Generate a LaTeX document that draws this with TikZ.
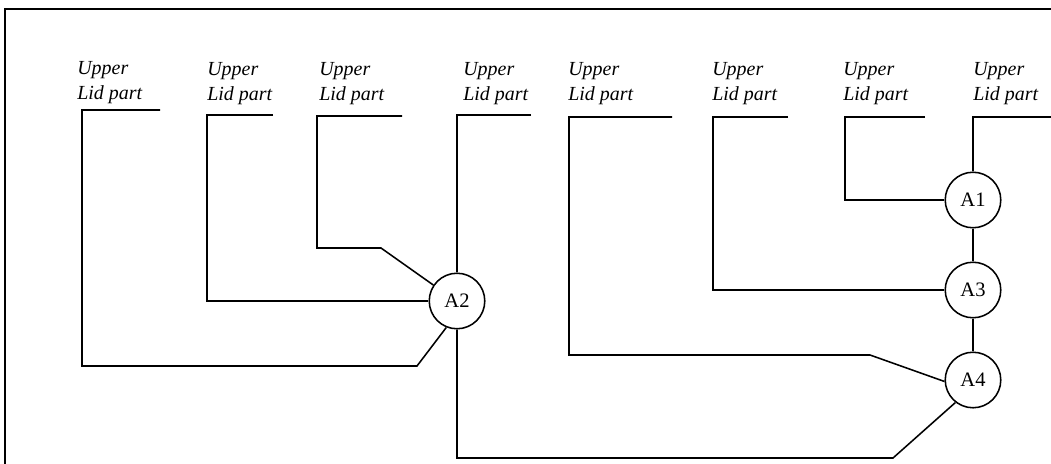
\documentclass[tikz,border=0pt]{standalone}
\usepackage{fontspec}
\setmainfont{Liberation Serif}
\usetikzlibrary{positioning,calc}
\tikzset{
  part/.style={font=\fontsize{14.2}{17.9}\selectfont\itshape,align=left,
               inner sep=0pt,anchor=base west},
  asm/.style={circle,draw=black,line width=1.1pt,minimum size=39.5pt,
              inner sep=0pt,font=\fontsize{14.6}{17}\selectfont},
  wire/.style={line width=1.1pt,black},
  frame/.style={line width=1.6pt,black},
}

\begin{document}
\begin{tikzpicture}[x=0.025cm,y=-0.025cm]
  \useasboundingbox (0,0) rectangle (1051,464);
  \draw[frame] (5,464) -- (5,9) -- (1051,9);

  % part labels (base = last line)
  \node[part] (p1) at (77,100)  {Upper\\Lid part};
  \node[part] (p2) at (207,101) {Upper\\Lid part};
  \node[part] (p3) at (319,101) {Upper\\Lid part};
  \node[part] (p4) at (463,101) {Upper\\Lid part};
  \node[part] (p5) at (568,101) {Upper\\Lid part};
  \node[part] (p6) at (712,101) {Upper\\Lid part};
  \node[part] (p7) at (843,101) {Upper\\Lid part};
  \node[part] (p8) at (973,101) {Upper\\Lid part};

  % assembly steps
  \node[asm] (A2) at (457,301) {A2};
  \node[asm] (A1) at (973,200) {A1};
  \node[asm] (A3) at (973,290) {A3};
  \node[asm] (A4) at (973,380) {A4};

  % bracket corners and ends
  \coordinate (c1) at (82,110);  \coordinate (e1) at (160,110);
  \coordinate (c2) at (207,115); \coordinate (e2) at (273,115);
  \coordinate (c3) at (317,116); \coordinate (e3) at (402,116);
  \coordinate (c4) at (457,115); \coordinate (e4) at (531,115);
  \coordinate (c5) at (569,117); \coordinate (e5) at (672,117);
  \coordinate (c6) at (713,117); \coordinate (e6) at (788,117);
  \coordinate (c7) at (845,117); \coordinate (e7) at (925,117);
  \coordinate (c8) at (973,117); \coordinate (e8) at (1051,117);
  \coordinate (k1) at (417,366);
  \coordinate (k3) at (381,248);
  \coordinate (k5) at (870,355);
  \coordinate (k0) at (893,458);

  \draw[wire] (e1) -- (c1) |- (k1) -- (A2.248);
  \draw[wire] (e2) -- (c2) |- (A2.west);
  \draw[wire] (e3) -- (c3) |- (k3) -- (A2.146);
  \draw[wire] (e4) -- (c4) -- (A2.north);
  \draw[wire] (A2.south) |- (k0) -- (A4.232);
  \draw[wire] (e5) -- (c5) |- (k5) -- (A4.183);
  \draw[wire] (e6) -- (c6) |- (A3.west);
  \draw[wire] (e7) -- (c7) |- (A1.west);
  \draw[wire] (e8) -- (c8) -- (A1.north);
  \draw[wire] (A1) -- (A3);
  \draw[wire] (A3) -- (A4);

\end{tikzpicture}
\end{document}
